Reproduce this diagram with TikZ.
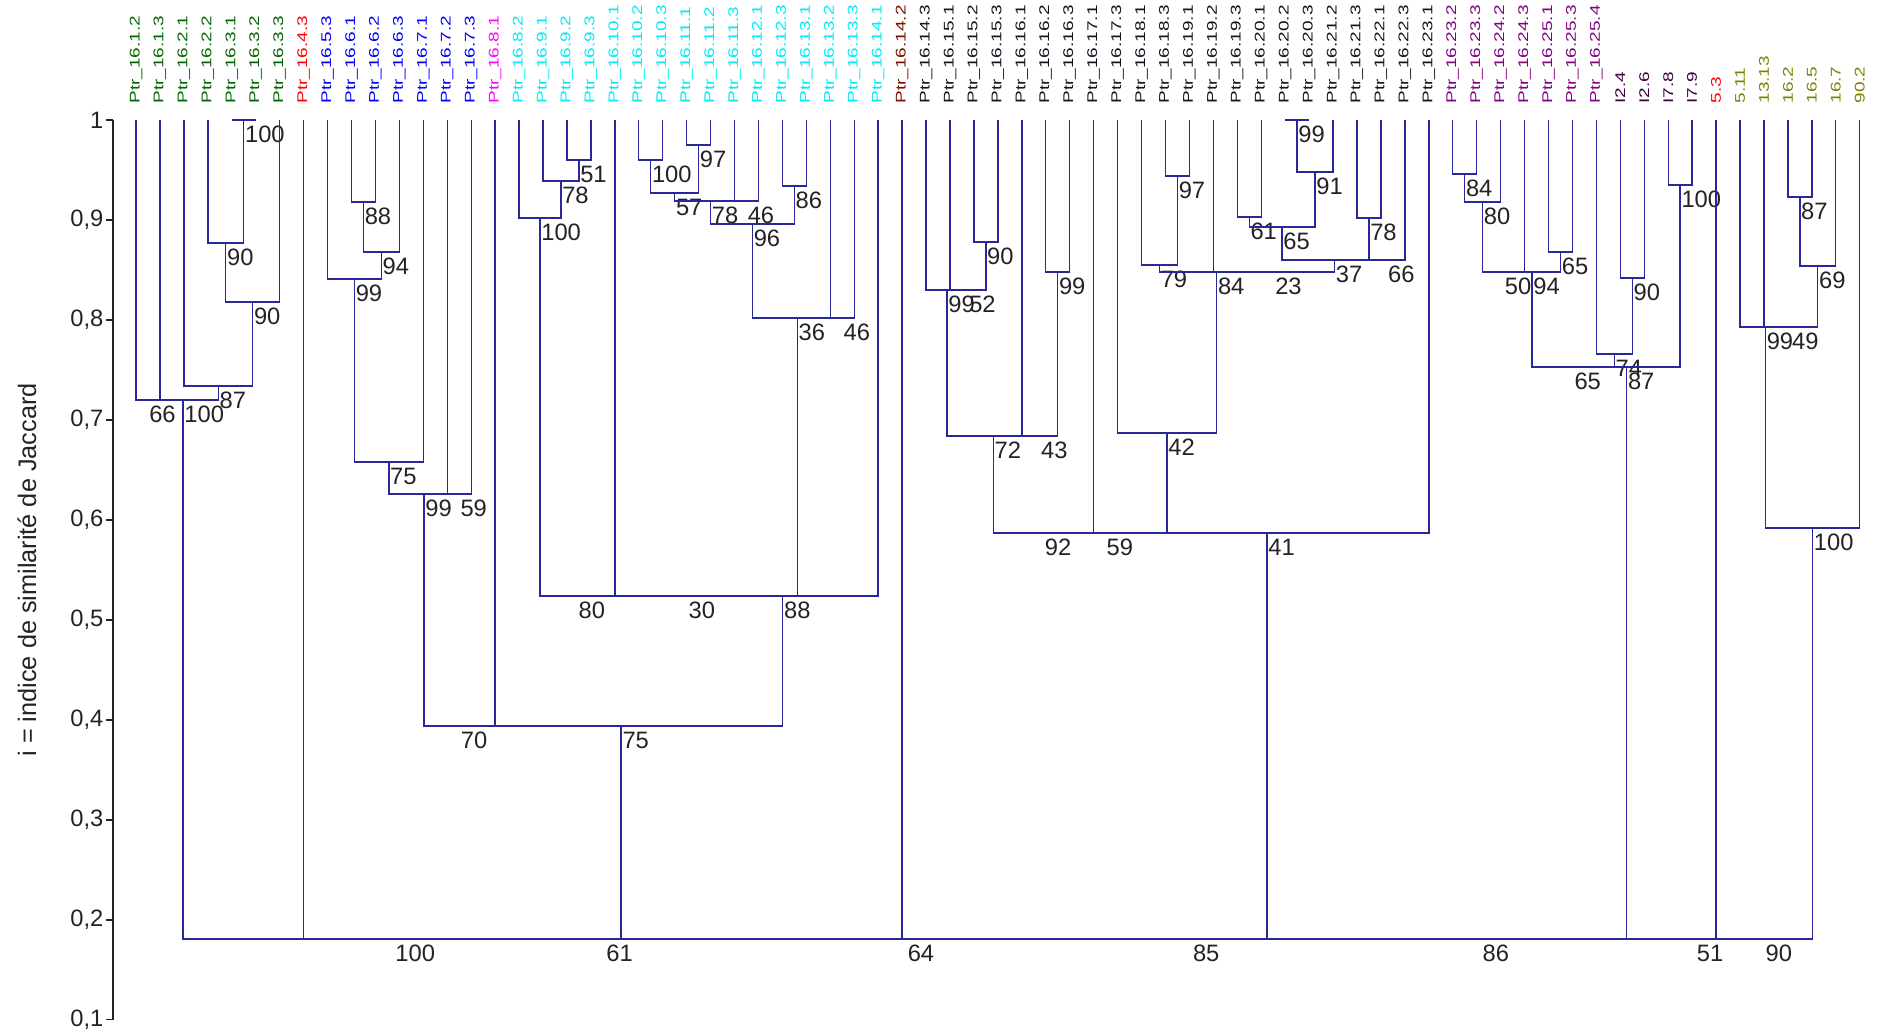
\documentclass[tikz,border=0pt]{standalone}
\usepackage{fontspec}
\setmainfont{Liberation Sans}
\newfontfamily\leaffont[FakeStretch=1.35]{Liberation Sans}
\usetikzlibrary{calc}
\definecolor{branchblue}{RGB}{40,40,155}
\definecolor{numgray}{RGB}{35,35,35}
\definecolor{grn}{RGB}{0,100,0}
\definecolor{rd}{RGB}{255,0,0}
\definecolor{blu}{RGB}{0,0,255}
\definecolor{mag}{RGB}{255,0,255}
\definecolor{cyn}{RGB}{0,235,245}
\definecolor{brn}{RGB}{125,15,0}
\definecolor{blk}{RGB}{20,20,30}
\definecolor{pur}{RGB}{128,0,128}
\definecolor{dpur}{RGB}{64,0,64}
\definecolor{olv}{RGB}{128,128,0}
\tikzset{
    branch/.style={draw=branchblue, line width=0.8pt},
    axis/.style={draw=numgray, line width=0.8pt},
    leaf/.style={rotate=90, anchor=west, inner xsep=0.33cm, inner ysep=0pt, outer sep=0pt,
                 text=#1, font=\leaffont\fontsize{8}{9}\selectfont},
    boot/.style={anchor=north west, inner sep=0pt, xshift=0.02cm, yshift=-0.12cm,
                 text=numgray, font=\fontsize{13.5}{15}\selectfont},
    tick/.style={anchor=east, inner sep=0pt, xshift=-0.04cm, text=numgray, font=\fontsize{13.5}{15}\selectfont}
}
\newcommand\clade[5]{%
  \path let \p1=($(#2)!0.5!(#3)$) in (\x1,{#4*20cm}) coordinate (#1);
  \draw[branch] (#2) |- (#1) -| (#3);
  \node[boot] (n#1) at (#1) {#5};}

\begin{document}
\begin{tikzpicture}[x=0.02cm, y=20cm]
    \path[use as bounding box, fill=white] (0,0.088) rectangle (1881,1.12);

    % axis
    \draw[axis] (113,0.1) -- (113,1);
    \draw[axis] (113,1) -- (106,1) node[tick] (y10) {1};
    \draw[axis] (113,0.9) -- (106,0.9) node[tick] (y9) {0,9};
    \draw[axis] (113,0.8) -- (106,0.8) node[tick] (y8) {0,8};
    \draw[axis] (113,0.7) -- (106,0.7) node[tick] (y7) {0,7};
    \draw[axis] (113,0.6) -- (106,0.6) node[tick] (y6) {0,6};
    \draw[axis] (113,0.5) -- (106,0.5) node[tick] (y5) {0,5};
    \draw[axis] (113,0.4) -- (106,0.4) node[tick] (y4) {0,4};
    \draw[axis] (113,0.3) -- (106,0.3) node[tick] (y3) {0,3};
    \draw[axis] (113,0.2) -- (106,0.2) node[tick] (y2) {0,2};
    \draw[axis] (113,0.1) -- (106,0.1) node[tick] (y1) {0,1};
    \node[rotate=90, text=numgray, font=\fontsize{14.4}{16}\selectfont] (ytitle) at (27,0.55) {i = indice de similarité de Jaccard};

    % leaves
    \node[leaf=grn] (L0) at (136.0,1) {Ptr\_16.1.2};
    \node[leaf=grn] (L1) at (159.9,1) {Ptr\_16.1.3};
    \node[leaf=grn] (L2) at (183.9,1) {Ptr\_16.2.1};
    \node[leaf=grn] (L3) at (207.8,1) {Ptr\_16.2.2};
    \node[leaf=grn] (L4) at (231.8,1) {Ptr\_16.3.1};
    \node[leaf=grn] (L5) at (255.7,1) {Ptr\_16.3.2};
    \node[leaf=grn] (L6) at (279.6,1) {Ptr\_16.3.3};
    \node[leaf=rd] (L7) at (303.6,1) {Ptr\_16.4.3};
    \node[leaf=blu] (L8) at (327.5,1) {Ptr\_16.5.3};
    \node[leaf=blu] (L9) at (351.5,1) {Ptr\_16.6.1};
    \node[leaf=blu] (L10) at (375.4,1) {Ptr\_16.6.2};
    \node[leaf=blu] (L11) at (399.3,1) {Ptr\_16.6.3};
    \node[leaf=blu] (L12) at (423.3,1) {Ptr\_16.7.1};
    \node[leaf=blu] (L13) at (447.2,1) {Ptr\_16.7.2};
    \node[leaf=blu] (L14) at (471.2,1) {Ptr\_16.7.3};
    \node[leaf=mag] (L15) at (495.1,1) {Ptr\_16.8.1};
    \node[leaf=cyn] (L16) at (519.0,1) {Ptr\_16.8.2};
    \node[leaf=cyn] (L17) at (543.0,1) {Ptr\_16.9.1};
    \node[leaf=cyn] (L18) at (566.9,1) {Ptr\_16.9.2};
    \node[leaf=cyn] (L19) at (590.9,1) {Ptr\_16.9.3};
    \node[leaf=cyn] (L20) at (614.8,1) {Ptr\_16.10.1};
    \node[leaf=cyn] (L21) at (638.7,1) {Ptr\_16.10.2};
    \node[leaf=cyn] (L22) at (662.7,1) {Ptr\_16.10.3};
    \node[leaf=cyn] (L23) at (686.6,1) {Ptr\_16.11.1};
    \node[leaf=cyn] (L24) at (710.6,1) {Ptr\_16.11.2};
    \node[leaf=cyn] (L25) at (734.5,1) {Ptr\_16.11.3};
    \node[leaf=cyn] (L26) at (758.4,1) {Ptr\_16.12.1};
    \node[leaf=cyn] (L27) at (782.4,1) {Ptr\_16.12.3};
    \node[leaf=cyn] (L28) at (806.3,1) {Ptr\_16.13.1};
    \node[leaf=cyn] (L29) at (830.3,1) {Ptr\_16.13.2};
    \node[leaf=cyn] (L30) at (854.2,1) {Ptr\_16.13.3};
    \node[leaf=cyn] (L31) at (878.1,1) {Ptr\_16.14.1};
    \node[leaf=brn] (L32) at (902.1,1) {Ptr\_16.14.2};
    \node[leaf=blk] (L33) at (926.0,1) {Ptr\_16.14.3};
    \node[leaf=blk] (L34) at (950.0,1) {Ptr\_16.15.1};
    \node[leaf=blk] (L35) at (973.9,1) {Ptr\_16.15.2};
    \node[leaf=blk] (L36) at (997.8,1) {Ptr\_16.15.3};
    \node[leaf=blk] (L37) at (1021.8,1) {Ptr\_16.16.1};
    \node[leaf=blk] (L38) at (1045.7,1) {Ptr\_16.16.2};
    \node[leaf=blk] (L39) at (1069.7,1) {Ptr\_16.16.3};
    \node[leaf=blk] (L40) at (1093.6,1) {Ptr\_16.17.1};
    \node[leaf=blk] (L41) at (1117.5,1) {Ptr\_16.17.3};
    \node[leaf=blk] (L42) at (1141.5,1) {Ptr\_16.18.1};
    \node[leaf=blk] (L43) at (1165.4,1) {Ptr\_16.18.3};
    \node[leaf=blk] (L44) at (1189.4,1) {Ptr\_16.19.1};
    \node[leaf=blk] (L45) at (1213.3,1) {Ptr\_16.19.2};
    \node[leaf=blk] (L46) at (1237.2,1) {Ptr\_16.19.3};
    \node[leaf=blk] (L47) at (1261.2,1) {Ptr\_16.20.1};
    \node[leaf=blk] (L48) at (1285.1,1) {Ptr\_16.20.2};
    \node[leaf=blk] (L49) at (1309.1,1) {Ptr\_16.20.3};
    \node[leaf=blk] (L50) at (1333.0,1) {Ptr\_16.21.2};
    \node[leaf=blk] (L51) at (1356.9,1) {Ptr\_16.21.3};
    \node[leaf=blk] (L52) at (1380.9,1) {Ptr\_16.22.1};
    \node[leaf=blk] (L53) at (1404.8,1) {Ptr\_16.22.3};
    \node[leaf=blk] (L54) at (1428.8,1) {Ptr\_16.23.1};
    \node[leaf=pur] (L55) at (1452.7,1) {Ptr\_16.23.2};
    \node[leaf=pur] (L56) at (1476.6,1) {Ptr\_16.23.3};
    \node[leaf=pur] (L57) at (1500.6,1) {Ptr\_16.24.2};
    \node[leaf=pur] (L58) at (1524.5,1) {Ptr\_16.24.3};
    \node[leaf=pur] (L59) at (1548.5,1) {Ptr\_16.25.1};
    \node[leaf=pur] (L60) at (1572.4,1) {Ptr\_16.25.3};
    \node[leaf=pur] (L61) at (1596.3,1) {Ptr\_16.25.4};
    \node[leaf=dpur] (L62) at (1620.3,1) {I2.4};
    \node[leaf=dpur] (L63) at (1644.2,1) {I2.6};
    \node[leaf=dpur] (L64) at (1668.2,1) {I7.8};
    \node[leaf=dpur] (L65) at (1692.1,1) {I7.9};
    \node[leaf=rd] (L66) at (1716.0,1) {5.3};
    \node[leaf=olv] (L67) at (1740.0,1) {5.11};
    \node[leaf=olv] (L68) at (1763.9,1) {13.13};
    \node[leaf=olv] (L69) at (1787.9,1) {16.2};
    \node[leaf=olv] (L70) at (1811.8,1) {16.5};
    \node[leaf=olv] (L71) at (1835.7,1) {16.7};
    \node[leaf=olv] (L72) at (1859.7,1) {90.2};

    % green
    \clade{g1}{L4}{L5}{1}{100}
    \clade{g2}{L3}{g1}{0.877}{90}
    \clade{g3}{g2}{L6}{0.818}{90}
    \clade{g4}{L2}{g3}{0.734}{87}
    \clade{g5}{L0}{L1}{0.72}{66}
    \clade{g6}{g5}{g4}{0.72}{100}
    % blue
    \clade{b1}{L9}{L10}{0.918}{88}
    \clade{b2}{b1}{L11}{0.868}{94}
    \clade{b3}{L8}{b2}{0.841}{99}
    \clade{b4}{b3}{L12}{0.658}{75}
    \clade{b5}{L13}{L14}{0.626}{59}
    \clade{b6}{b4}{b5}{0.626}{99}
    \clade{b7}{b6}{L15}{0.394}{70}
    % cyan
    \clade{c1}{L18}{L19}{0.96}{51}
    \clade{c2}{L17}{c1}{0.939}{78}
    \clade{c3}{L16}{c2}{0.902}{100}
    \clade{c4}{L21}{L22}{0.96}{100}
    \clade{c5}{L23}{L24}{0.975}{97}
    \clade{c6}{c4}{c5}{0.927}{57}
    \clade{c7}{L25}{L26}{0.919}{46}
    \clade{c8}{c6}{c7}{0.919}{78}
    \clade{c9}{L27}{L28}{0.934}{86}
    \clade{c10}{c8}{c9}{0.896}{96}
    \clade{c11}{L29}{L30}{0.802}{46}
    \clade{c12}{c10}{c11}{0.802}{36}
    \clade{c13}{c3}{L20}{0.524}{80}
    \clade{c14}{c13}{c12}{0.524}{30}
    \clade{c15}{c14}{L31}{0.524}{88}
    \clade{c16}{b7}{c15}{0.394}{75}
    % black
    \clade{k1}{L35}{L36}{0.878}{90}
    \clade{k2}{L34}{k1}{0.83}{52}
    \clade{k3}{L33}{k2}{0.83}{99}
    \clade{k4}{L38}{L39}{0.848}{99}
    \clade{k5}{L37}{k4}{0.684}{43}
    \clade{k6}{k3}{k5}{0.684}{72}
    \clade{k7}{L43}{L44}{0.944}{97}
    \clade{k8}{L42}{k7}{0.855}{79}
    \clade{k9}{L48}{L49}{1}{99}
    \clade{k10}{k9}{L50}{0.948}{91}
    \clade{k11}{L46}{L47}{0.903}{61}
    \clade{k12}{k11}{k10}{0.893}{65}
    \clade{k13}{L51}{L52}{0.902}{78}
    \clade{k14}{k13}{L53}{0.86}{66}
    \clade{k15}{k12}{k14}{0.86}{37}
    \clade{k16}{L45}{k15}{0.848}{23}
    \clade{k17}{k8}{k16}{0.848}{84}
    \clade{k18}{L41}{k17}{0.687}{42}
    \clade{k19}{k6}{L40}{0.587}{92}
    \clade{k20}{k19}{k18}{0.587}{59}
    \clade{k21}{k20}{L54}{0.587}{41}
    % purple
    \clade{p1}{L55}{L56}{0.946}{84}
    \clade{p2}{p1}{L57}{0.918}{80}
    \clade{p3}{L59}{L60}{0.868}{65}
    \clade{p4}{p2}{L58}{0.848}{50}
    \clade{p5}{p4}{p3}{0.848}{94}
    \clade{p6}{L62}{L63}{0.842}{90}
    \clade{p7}{L61}{p6}{0.766}{74}
    \clade{p8}{L64}{L65}{0.935}{100}
    \clade{p9}{p5}{p7}{0.753}{65}
    \clade{p10}{p9}{p8}{0.753}{87}
    % olive
    \clade{o1}{L69}{L70}{0.923}{87}
    \clade{o2}{o1}{L71}{0.854}{69}
    \clade{o3}{L68}{o2}{0.793}{49}
    \clade{o4}{L67}{o3}{0.793}{99}
    \clade{o5}{o4}{L72}{0.592}{100}
    % root
    \clade{r1}{L66}{o5}{0.181}{90}
    \clade{r2}{p10}{r1}{0.181}{51}
    \clade{r3}{k21}{r2}{0.181}{86}
    \clade{r4}{L32}{r3}{0.181}{85}
    \clade{r5}{c16}{r4}{0.181}{64}
    \clade{r6}{L7}{r5}{0.181}{61}
    \clade{r7}{g6}{r6}{0.181}{100}
    %\draw[branch] (r7) -- ++(0,-0.05);
\end{tikzpicture}
\end{document}
